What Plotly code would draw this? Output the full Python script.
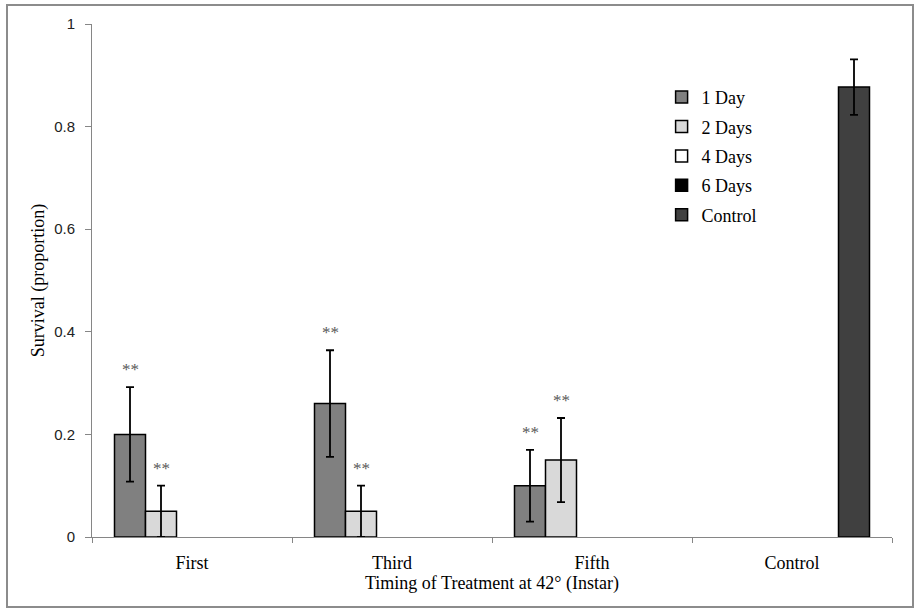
import plotly.graph_objects as go

categories = ["First", "Third", "Fifth", "Control"]
series_names = ["1 Day", "2 Days", "4 Days", "6 Days", "Control"]
one_day = [0.20, 0.26, 0.10, None]
one_day_err = [0.092, 0.104, 0.070, None]
two_days = [0.05, 0.05, 0.15, None]
two_days_err = [0.05, 0.05, 0.082, None]
four_days = [None, None, None, None]
four_days_err = [None, None, None, None]
six_days = [None, None, None, None]
six_days_err = [None, None, None, None]
control = [None, None, None, 0.877]
control_err = [None, None, None, 0.054]
# significance markers: (series index, category index)
sig_marks = [(0, 0), (1, 0), (0, 1), (1, 1), (0, 2), (1, 2)]

values = [one_day, two_days, four_days, six_days, control]
errors = [one_day_err, two_days_err, four_days_err, six_days_err, control_err]
colors = ["#808080", "#d9d9d9", "#ffffff", "#000000", "#404040"]

BARGAP = 0.225
serif = "Liberation Serif, Times New Roman, serif"
sans = "Liberation Sans, Arial, sans-serif"

fig = go.Figure()
for i, (name, v, e, c) in enumerate(zip(series_names, values, errors, colors)):
    fig.add_trace(go.Bar(
        name=name, x=categories, y=v,
        marker=dict(color=c, line=dict(color="#000000", width=1.5)),
        error_y=dict(type="data", array=e, visible=True, color="#000000",
                     thickness=1.8, width=4),
        legendgroup=name,
    ))

nser = len(series_names)
bw = (1 - BARGAP) / nser
for si, ci in sig_marks:
    v = values[si][ci]
    e = errors[si][ci]
    fig.add_annotation(
        x=ci + (si - (nser - 1) / 2) * bw, y=v + e,
        xref="x", yref="y", text="**", showarrow=False,
        yanchor="bottom", yshift=6,
        font=dict(family=serif, size=17, color="#595959"),
    )

# outer chart border
fig.add_shape(type="rect", xref="paper", yref="paper",
              x0=-0.10625, x1=1.02625, y0=-0.1365, y1=1.037,
              line=dict(color="#8c8c8c", width=2), layer="below")

fig.update_layout(
    width=916, height=613,
    margin=dict(l=92, r=24, t=24, b=76, autoexpand=False),
    paper_bgcolor="white", plot_bgcolor="white",
    barmode="group", bargap=BARGAP, bargroupgap=0,
    showlegend=True,
    legend=dict(x=0.712, y=0.893, xanchor="left", yanchor="top",
                font=dict(family=serif, size=18, color="#000000"),
                bgcolor="rgba(0,0,0,0)", tracegroupgap=3,
                itemwidth=30),
    xaxis=dict(
        type="category", categoryorder="array", categoryarray=categories,
        showline=True, linecolor="#868686", linewidth=1,
        ticks="outside", tickson="boundaries", ticklen=5, tickcolor="#868686",
        tickfont=dict(family=serif, size=18, color="#000000"),
        ticklabelstandoff=9,
        title=dict(text="Timing of Treatment at 42° (Instar)",
                   font=dict(family=serif, size=18, color="#000000"), standoff=2),
        showgrid=False, automargin=False,
    ),
    yaxis=dict(
        range=[0, 1], tickvals=[0, 0.2, 0.4, 0.6, 0.8, 1],
        ticktext=["0", "0.2", "0.4", "0.6", "0.8", "1"],
        showline=True, linecolor="#868686", linewidth=1,
        ticks="outside", ticklen=6, tickcolor="#868686",
        tickfont=dict(family=sans, size=15, color="#222222"),
        ticklabelstandoff=7,
        title=dict(text="Survival (proportion)",
                   font=dict(family=serif, size=18, color="#000000"), standoff=4),
        showgrid=False, zeroline=False, automargin=False,
    ),
)

fig.write_html("out.html")
